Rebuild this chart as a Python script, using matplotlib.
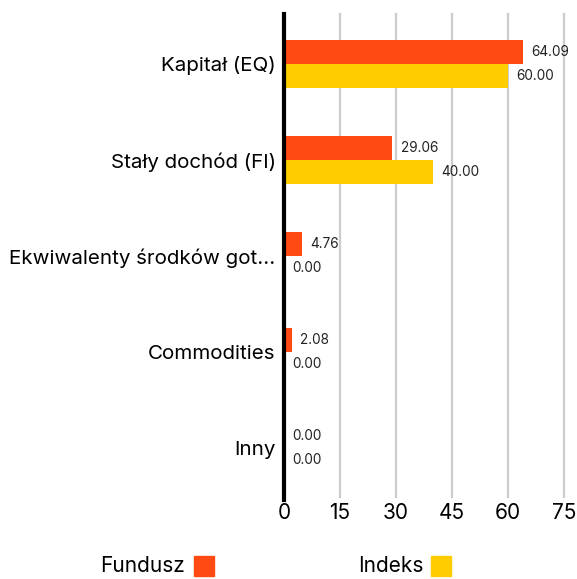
import numpy as np
import matplotlib.pyplot as plt
from matplotlib.patches import Rectangle

plt.rcParams['font.family'] = ['Inter', 'DejaVu Sans']

# dane
categories = ["Kapitał (EQ)", "Stały dochód (FI)", "Ekwiwalenty środków got...", "Commodities", "Inny"]
fundusz = [64.09, 29.06, 4.76, 2.08, 0.00]
indeks = [60.00, 40.00, 0.00, 0.00, 0.00]
xticks = [0, 15, 30, 45, 60, 75]
series_names = ["Fundusz", "Indeks"]
colors = ["#FF4A14", "#FFCD00"]

W, H = 577, 579
fig = plt.figure(figsize=(W / 100, H / 100), dpi=100)
ax = fig.add_axes([284 / W, 1 - 497 / H, (564 - 284) / W, (497 - 14) / H])

y = np.arange(len(categories))
h = 0.25
ax.barh(y - h / 2, fundusz, height=h, color=colors[0])
ax.barh(y + h / 2, indeks, height=h, color=colors[1])

for i in range(len(categories)):
    ax.annotate(f"{fundusz[i]:.2f}", (fundusz[i], y[i] - h / 2), xytext=(6, 0),
                textcoords="offset points", va="center", ha="left", fontsize=9.8, color="#222222")
    ax.annotate(f"{indeks[i]:.2f}", (indeks[i], y[i] + h / 2), xytext=(6, 0),
                textcoords="offset points", va="center", ha="left", fontsize=9.8, color="#222222")

ax.set_xlim(0, 75)
ax.set_ylim(4.51, -0.52)
ax.set_yticks(y)
ax.set_yticklabels(categories, fontsize=14.8)
ax.set_xticks(xticks)
ax.set_xticklabels([str(t) for t in xticks], fontsize=15)
ax.tick_params(length=0, pad=4)
ax.tick_params(axis='y', pad=6)

for t in xticks[1:]:
    ax.axvline(t, color="#cccccc", lw=1.6, zorder=0, clip_on=False)
ax.axvline(0, color="black", lw=3, zorder=3, ymin=-0.006, clip_on=False)

for s in ax.spines.values():
    s.set_visible(False)

# legenda
fig.text(100 / W, 1 - 566 / H, series_names[0], fontsize=15, va="center", ha="left")
fig.add_artist(Rectangle((194 / W, 1 - 576 / H), 20 / W, 20 / H, color=colors[0], transform=fig.transFigure))
fig.text(358 / W, 1 - 566 / H, series_names[1], fontsize=15, va="center", ha="left")
fig.add_artist(Rectangle((431 / W, 1 - 576 / H), 20 / W, 20 / H, color=colors[1], transform=fig.transFigure))

fig.savefig("out.png", dpi=100)
